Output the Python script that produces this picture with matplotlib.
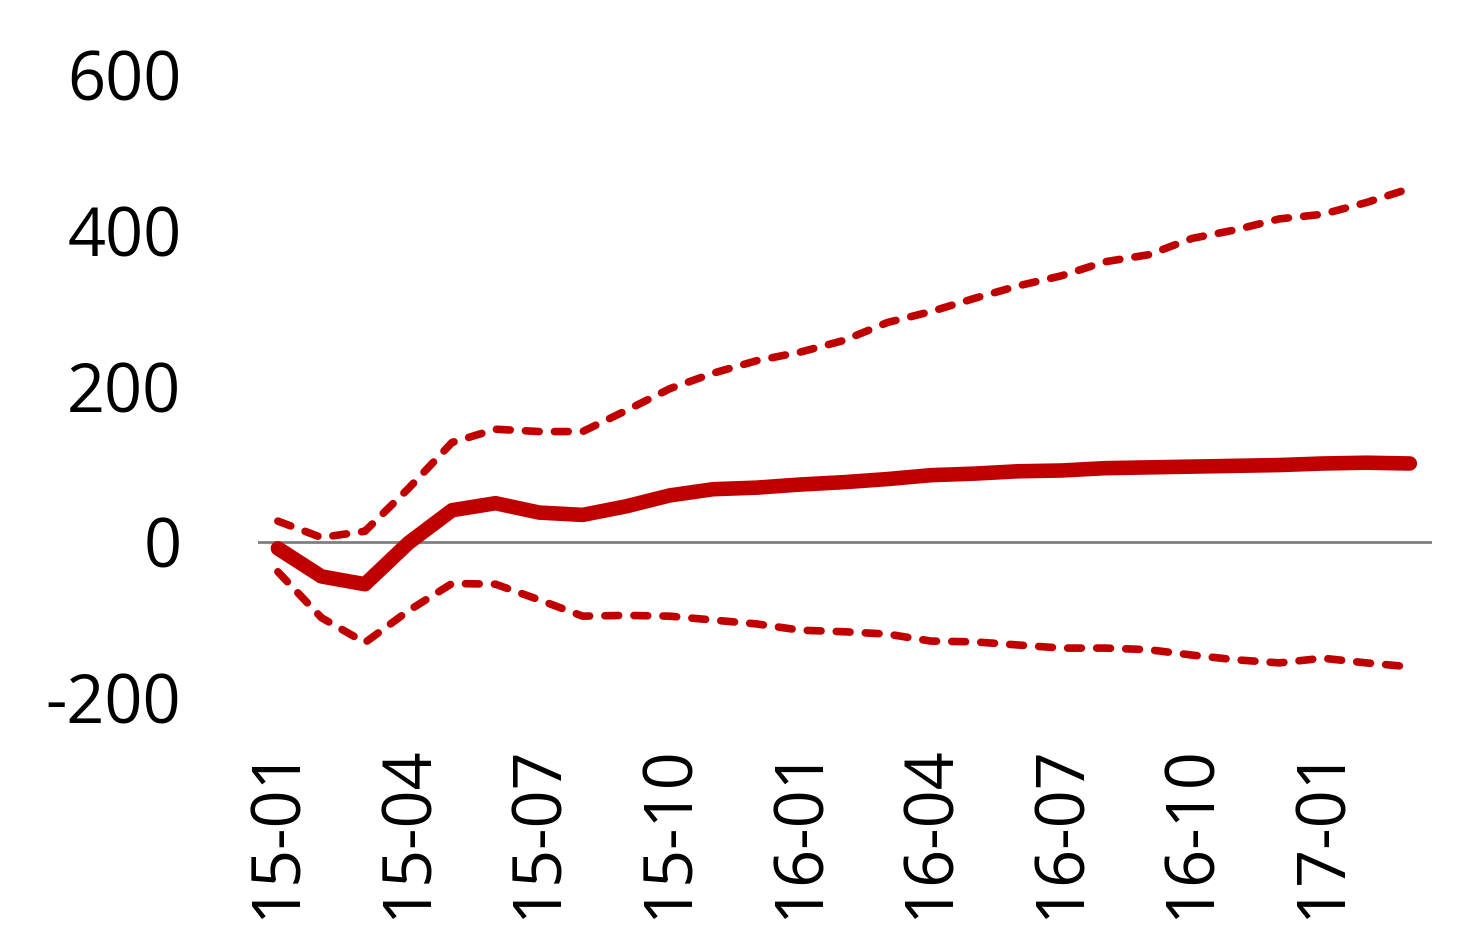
import matplotlib.pyplot as plt
import numpy as np

plt.rcParams['font.family'] = ['Open Sans', 'DejaVu Sans']
plt.rcParams['axes.unicode_minus'] = False

months = ["15-01", "15-02", "15-03", "15-04", "15-05", "15-06", "15-07", "15-08", "15-09",
          "15-10", "15-11", "15-12", "16-01", "16-02", "16-03", "16-04", "16-05", "16-06",
          "16-07", "16-08", "16-09", "16-10", "16-11", "16-12", "17-01", "17-02", "17-03"]

central = [-8, -44, -54, -1, 41, 50, 38, 35, 46, 60, 68, 70, 74, 77, 81, 86, 88, 91,
           92, 95, 96, 97, 98, 99, 101, 102, 101]
upper = [27, 6, 14, 69, 128, 145, 142, 142, 169, 197, 217, 233, 244, 259, 282, 296, 313, 329,
         342, 360, 369, 390, 401, 415, 421, 436, 454]
lower = [-38, -97, -129, -88, -53, -54, -74, -95, -94, -95, -100, -105, -113, -115, -118, -127,
         -128, -132, -136, -136, -138, -145, -151, -155, -149, -155, -160]

red = "#C00000"
x = np.arange(len(months))

fig = plt.figure(figsize=(14.82, 9.47), dpi=100)
ax = fig.add_axes([0.174, 0.263, 0.792, 0.658])

ax.axhline(0, color="#808080", lw=2, zorder=1)
ax.plot(x, upper, color=red, lw=5.5, dashes=(1.8, 2.0), dash_capstyle="round", zorder=2)
ax.plot(x, lower, color=red, lw=5.5, dashes=(1.8, 2.0), dash_capstyle="round", zorder=2)
ax.plot(x, central, color=red, lw=10.5, solid_capstyle="round", solid_joinstyle="round", zorder=3)

ax.set_xlim(-0.46, 26.5)
ax.set_ylim(-200, 600)
ax.set_yticks([-200, 0, 200, 400, 600])
ax.set_xticks(x[::3])
ax.set_xticklabels(months[::3], rotation=90)

for s in ax.spines.values():
    s.set_visible(False)
ax.tick_params(axis="both", length=0, labelsize=48)
ax.tick_params(axis="y", pad=55)
ax.tick_params(axis="x", pad=34)

fig.savefig("out.png", dpi=100)
